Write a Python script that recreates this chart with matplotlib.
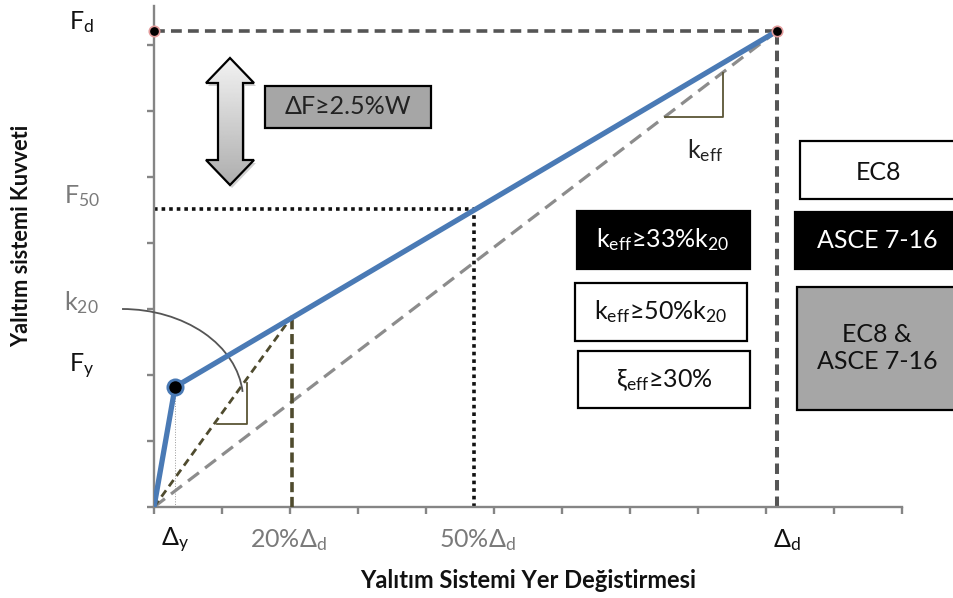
import matplotlib
matplotlib.use("Agg")
import matplotlib.pyplot as plt
from matplotlib.patches import Rectangle, Polygon, Arc
import numpy as np

# ---------------- data (schematic values, in tick units) ----------------
curve_x = [0.0, 0.31, 9.16]          # origin, yield, design displacement
curve_y = [0.0, 1.82, 7.21]          # origin, Fy, Fd
x_yield, F_y = 0.31, 1.82
x_20, F_20 = 2.03, 2.89
x_50, F_50 = 4.71, 4.52
x_d, F_d = 9.16, 7.21
x_ticks = list(range(12))
y_ticks = list(range(8))
x_labels = [r'$\mathrm{Δ_y}$', r'20%$\mathrm{Δ_d}$', r'50%$\mathrm{Δ_d}$', r'$\mathrm{Δ_d}$']
x_label_pos = [x_yield, x_20 - 0.05, x_50 + 0.05, x_d + 0.15]
x_label_colors = ['#111111', '#7a7a7a', '#7a7a7a', '#111111']
y_labels = [r'$\mathrm{F_d}$', r'$\mathrm{F_{50}}$', r'$\mathrm{k_{20}}$', r'$\mathrm{F_y}$']
y_label_pos = [F_d, F_50, 3.1, F_y]
y_label_dy = [6.5, 9.4, 0.0, 15.0]      # vertical offsets (points)
y_label_colors = ['#111111', '#7a7a7a', '#7a7a7a', '#111111']
xlabel = 'Yalıtım Sistemi Yer Değistirmesi'
ylabel = 'Yalıtım sistemi Kuvveti'

FONT = ['Lato', 'DejaVu Sans']
plt.rcParams['font.family'] = FONT
plt.rcParams['mathtext.fontset'] = 'custom'
plt.rcParams['mathtext.rm'] = 'Lato'
plt.rcParams['mathtext.it'] = 'Lato:italic'
plt.rcParams['mathtext.bf'] = 'Lato:bold'
plt.rcParams['mathtext.fallback'] = 'stixsans'

W, H = 954, 598
fig = plt.figure(figsize=(W / 100, H / 100), dpi=100)
ax = fig.add_axes([154 / W, (H - 507) / H, (902 - 154) / W, (507 - 6) / H])
ax.set_xlim(0, 11)
ax.set_ylim(0, 501 / 66)

for s in ['top', 'right']:
    ax.spines[s].set_visible(False)
for s in ['left', 'bottom']:
    ax.spines[s].set_color('#858585')
    ax.spines[s].set_linewidth(1.7)
ax.set_xticks(x_ticks)
ax.set_yticks(y_ticks)
ax.set_xticklabels([])
ax.set_yticklabels([])
ax.tick_params(direction='out', length=5, width=1.7, color='#858585')

def px(x, y):
    return x / W, 1 - y / H

# reference lines
ax.plot([0, x_d], [F_d, F_d], color='#555555', lw=2.6, ls=(0, (3.0, 1.7)), zorder=2, clip_on=False)
ax.plot([x_d, x_d], [0, F_d], color='#555555', lw=2.9, ls=(0, (2.6, 1.5)), zorder=2, clip_on=False)
ax.plot([0, x_50], [F_50, F_50], color='#111111', lw=2.6, ls=(0, (1, 1.1)), zorder=2)
ax.plot([x_50, x_50], [0, F_50], color='#111111', lw=2.6, ls=(0, (1, 1.1)), zorder=2)
ax.plot([x_yield, x_yield], [0, F_y], color='#999999', lw=0.7, ls=':', zorder=2)
# secant stiffness (keff) and k20
ax.plot([0, x_d], [0, F_d], color='#8c8c8c', lw=2.3, ls=(0, (4.3, 2.4)), zorder=3)
ax.plot([0, x_20], [0, F_20], color='#4f4b2e', lw=2.0, ls=(0, (2.8, 1.8)), zorder=3)
ax.plot([x_20, x_20], [0, F_20], color='#4f4b2e', lw=2.6, ls=(0, (2.8, 1.3)), zorder=3)

# slope triangles
ax.plot([0.93, 1.37, 1.37], [1.26, 1.26, 1.88], color='#5a5535', lw=1.3, zorder=3)
ax.plot([7.51, 8.37, 8.37], [5.91, 5.91, 6.58], color='#5a5535', lw=1.3, zorder=3)

# k20 arc
arc = Arc((-0.47, 1.62), 3.56, 2.76, theta1=4, theta2=90, color='#555555', lw=1.3, clip_on=False, zorder=3)
ax.add_patch(arc)

# backbone curve
ax.plot(curve_x, curve_y, color='#4a7ab5', lw=3.8, solid_capstyle='round', zorder=4)
ax.plot([x_yield], [F_y], 'o', ms=11, color='black', mec='#4a7ab5', mew=2, zorder=5)
ax.plot([0, x_d], [F_d, F_d], 'o', ms=7.5, color='black', mec='#e39b9b', mew=1.2, ls='none', zorder=6, clip_on=False)

# axis tick-like labels
for lab, xv, c in zip(x_labels, x_label_pos, x_label_colors):
    ax.annotate(lab, xy=(xv, 0), xytext=(0, -24), textcoords='offset points',
                ha='center', va='center', fontsize=18, color=c, annotation_clip=False)
for lab, yv, dy, c in zip(y_labels, y_label_pos, y_label_dy, y_label_colors):
    ax.annotate(lab, xy=(0, yv), xytext=(-52, dy), textcoords='offset points',
                ha='center', va='center', fontsize=18, color=c, annotation_clip=False)
ax.annotate(r'$\mathrm{k_{eff}}$', xy=(8.1, 5.91), xytext=(0, -24), textcoords='offset points',
            ha='center', va='center', fontsize=18, color='#222222')

tx = fig.text(*px(528, 580), xlabel, ha='center', va='center', fontsize=15, fontweight='bold', color='#111111')
ty = fig.text(*px(22, 236), ylabel, ha='center', va='center', rotation=90, fontsize=15, fontweight='bold', color='#111111')

# fit axis-title sizes to the reference extents
r = fig.canvas.get_renderer()
wx = tx.get_window_extent(r).width
tx.set_fontsize(15 * 339 / wx)
hy = ty.get_window_extent(r).height
ty.set_fontsize(15 * 222 / hy)

# boxes
def box(x0, y0, x1, y1, fc, ec='black'):
    fx0, fy1 = px(x0, y0)
    fx1, fy0 = px(x1, y1)
    fig.patches.append(Rectangle((fx0, fy0), fx1 - fx0, fy1 - fy0, transform=fig.transFigure,
                                 facecolor=fc, edgecolor=ec, lw=1.6, zorder=5))

def btext(x, y, text, tc, fs=18, **kw):
    fig.text(*px(x, y), text, ha='center', va='center', fontsize=fs, color=tc, zorder=6, **kw)

box(265, 86, 431, 128, '#a6a6a6')
btext(348, 107, 'ΔF≥2.5%W', '#222222')
box(577, 211, 750, 269, 'black')
btext(663, 240, r'$\mathrm{k_{eff}}$≥33%$\mathrm{k_{20}}$', 'white')
box(575, 283, 747, 341, 'white')
btext(661, 312, r'$\mathrm{k_{eff}}$≥50%$\mathrm{k_{20}}$', '#111111')
box(578, 351, 750, 408, 'white')
btext(664, 380, r'$\mathrm{ξ_{eff}}$≥30%', '#111111')
box(800, 141, 962, 199, 'white')
btext(878, 172, 'EC8', '#111111')
box(795, 212, 962, 269, 'black')
btext(877, 240, 'ASCE 7-16', 'white')
box(797, 287, 962, 410, '#a6a6a6')
btext(877, 348, 'EC8 &\nASCE 7-16', '#111111', linespacing=1.2)

# double-headed block arrow with gradient
aax = fig.add_axes([200 / W, 1 - 194 / H, 64 / W, 142 / H])
aax.set_xlim(200, 264)
aax.set_ylim(194, 52)
aax.axis('off')
arrow_pts = [(230, 58), (254, 83), (243, 83), (243, 160), (254, 160), (230, 185),
             (206, 160), (218, 160), (218, 83), (206, 83)]
shadow = Polygon([(x + 2, y + 3) for x, y in arrow_pts], closed=True, fc='#000000', ec='none', alpha=0.18)
aax.add_patch(shadow)
poly = Polygon(arrow_pts, closed=True, fc='none', ec='black', lw=1.6, zorder=3)
aax.add_patch(poly)
grad = np.linspace(0.95, 0.68, 100)[:, None] * np.ones((1, 10))
im = aax.imshow(grad, cmap='gray', vmin=0, vmax=1, extent=(204, 256, 185, 58), aspect='auto', zorder=2)
im.set_clip_path(poly)

fig.savefig('out.png', dpi=100)
